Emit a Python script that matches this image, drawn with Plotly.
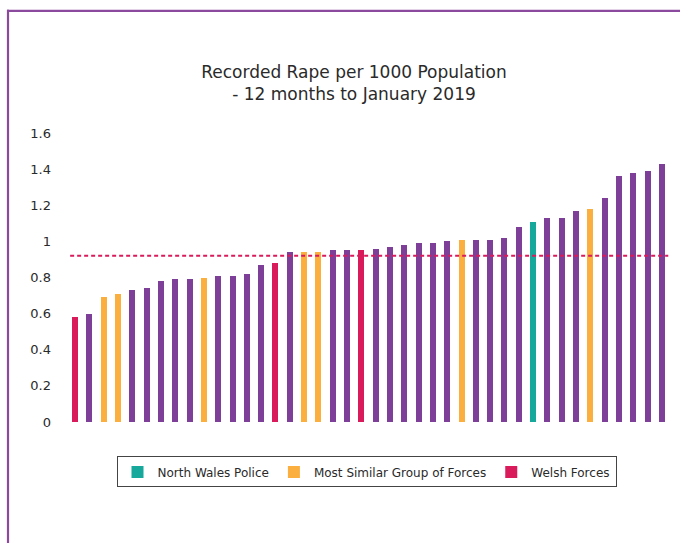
import plotly.graph_objects as go

values = [0.58, 0.60, 0.69, 0.71, 0.73, 0.74, 0.78, 0.79, 0.79, 0.80,
          0.81, 0.81, 0.82, 0.87, 0.88, 0.94, 0.94, 0.94, 0.95, 0.95,
          0.955, 0.96, 0.97, 0.98, 0.99, 0.99, 1.00, 1.005, 1.01, 1.01,
          1.02, 1.08, 1.105, 1.127, 1.127, 1.17, 1.18, 1.24, 1.36, 1.38,
          1.39, 1.43]
groups = ["W", "O", "M", "M", "O", "O", "O", "O", "O", "M",
          "O", "O", "O", "O", "W", "O", "M", "M", "O", "O",
          "W", "O", "O", "O", "O", "O", "O", "M", "O", "O",
          "O", "O", "N", "O", "O", "O", "M", "O", "O", "O",
          "O", "O"]
average = 0.92
tick_vals = [0, 0.2, 0.4, 0.6, 0.8, 1.0, 1.2, 1.4, 1.6]
tick_text = ["0", "0.2", "0.4", "0.6", "0.8", "1", "1.2", "1.4", "1.6"]

series = [
    ("O", "Other Forces", "#7D3F98", False),
    ("N", "North Wales Police", "#16A89B", True),
    ("M", "Most Similar Group of Forces", "#FBAF3F", True),
    ("W", "Welsh Forces", "#D91B5C", True),
]

FONT = "DejaVu Sans"

fig = go.Figure()
for code, name, color, show in series:
    xs = [i for i, g in enumerate(groups) if g == code]
    ys = [values[i] for i in xs]
    fig.add_trace(go.Bar(x=xs, y=ys, name=name, marker_color=color,
                         marker_line_width=0, width=0.42, showlegend=show))

fig.add_shape(type="line", xref="x", yref="y", x0=-0.35, x1=41.45,
              y0=average, y1=average,
              line=dict(color="#D91B5C", width=2, dash="4px,3px"))

# outer purple frame (left and top)
L, T = 68, 133.3
W, H = 601, 289.2
def px(x):
    return (x - L) / W
def py(y):
    return (T + H - y) / H
fig.add_shape(type="line", xref="paper", yref="paper",
              x0=px(8), x1=px(8), y0=py(10), y1=py(560),
              line=dict(color="#8B4A9E", width=2.2))
fig.add_shape(type="line", xref="paper", yref="paper",
              x0=px(7), x1=px(700), y0=py(11), y1=py(11),
              line=dict(color="#8B4A9E", width=2.2))

fig.update_layout(
    width=680, height=543,
    margin=dict(l=L, r=680 - L - W, t=T, b=543 - T - H),
    paper_bgcolor="white", plot_bgcolor="white",
    font=dict(family=FONT, color="#2a2a2a"),
    title=dict(text="Recorded Rape per 1000 Population<br>- 12 months to January 2019",
               x=354 / 680, xanchor="center", xref="container",
               y=1 - 78 / 543, yanchor="middle", yref="container",
               font=dict(size=17, color="#2a2a2a", family=FONT)),
    barmode="overlay",
    bargap=0,
    xaxis=dict(range=[-0.5, 41.5], showticklabels=False, showgrid=False,
               zeroline=False, showline=False, ticks=""),
    yaxis=dict(range=[0, 1.6], tickvals=tick_vals, ticktext=tick_text,
               showgrid=False, zeroline=False, showline=False, ticks="",
               tickfont=dict(size=13, color="#2a2a2a", family=FONT),
               ticklabelstandoff=16),
    legend=dict(orientation="h", x=px(366.5), xanchor="center",
                y=py(457), yanchor="top", bordercolor="#444", borderwidth=1,
                font=dict(size=12, color="#2a2a2a", family=FONT),
                itemclick=False),
    showlegend=True,
)

fig.write_html("out.html", config={"displayModeBar": False},
               post_script="document.body.style.margin='0';")
